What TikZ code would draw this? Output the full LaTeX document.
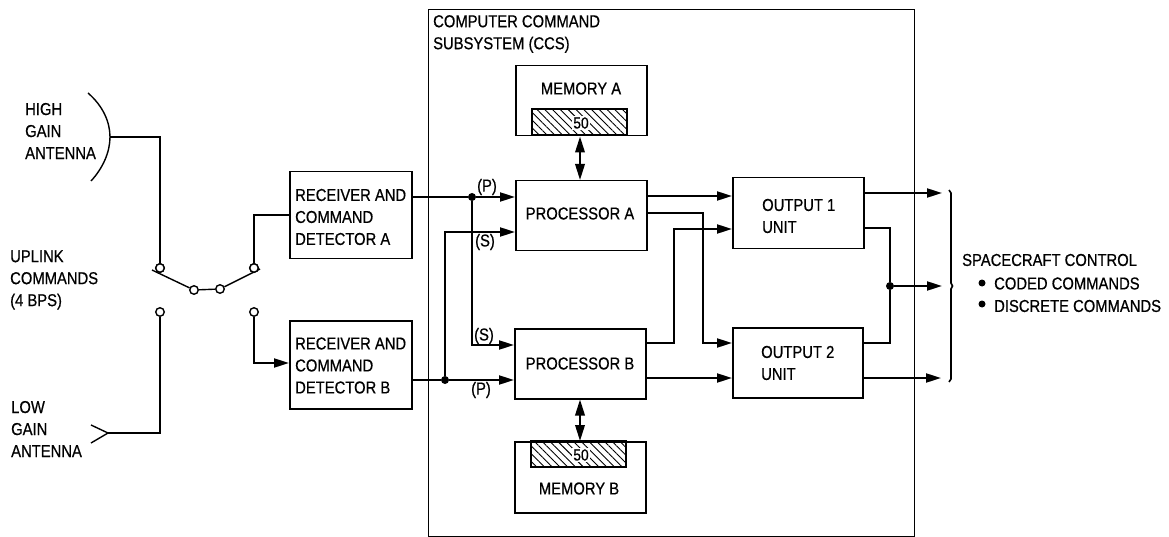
\documentclass[tikz,border=0pt]{standalone}
\usepackage{fontspec}
\setmainfont[FakeStretch=0.86,FakeBold=0.6]{Liberation Sans}
\usetikzlibrary{arrows.meta,patterns.meta}
\tikzset{
  x=1pt,y=-1pt,
  wire/.style={line width=2pt,line join=miter},
  arr/.style={wire,-{Triangle[length=15pt,width=9pt]}},
  darr/.style={wire,{Triangle[length=16pt,width=9.5pt]}-{Triangle[length=16pt,width=9.5pt]}},
  blockbox/.style={draw,line width=1.5pt,inner sep=0pt,minimum width=#1,anchor=north west},
  lbl/.style={inner sep=0pt,anchor=west,align=left,font=\fontsize{17.2}{22}\selectfont},
  ctr/.style={inner sep=0pt,anchor=center,align=center,font=\fontsize{17.2}{22}\selectfont},
  dotn/.style={circle,fill=black,inner sep=0pt,minimum size=8pt},
  term/.style={circle,draw,fill=white,line width=1.4pt,inner sep=0pt,minimum size=8.5pt},
  hatchbox/.style={draw,line width=1.5pt,pattern={Lines[angle=-45,distance=5.5pt,line width=.9pt]}}
}
\begin{document}
\begin{tikzpicture}
\useasboundingbox (0,0) rectangle (1169,537);
% CCS enclosure
\node[blockbox=486pt,minimum height=527pt] (ccs) at (427.5,9) {};
\node[lbl] (ccst) at (433,34) {COMPUTER COMMAND\\SUBSYSTEM (CCS)};
% blocks
\node[blockbox=122pt,minimum height=87pt] (rxa) at (289,171) {};
\node[lbl] at (295,217) {RECEIVER AND\\COMMAND\\DETECTOR A};
\node[blockbox=122pt,minimum height=88pt] (rxb) at (289,320) {};
\node[lbl] at (295,365.5) {RECEIVER AND\\COMMAND\\DETECTOR B};
\node[blockbox=131pt,minimum height=70pt] (pa) at (515,180) {};
\node[ctr] at (580,213.5) {PROCESSOR A};
\node[blockbox=131pt,minimum height=70pt] (pb) at (514,328) {};
\node[ctr] at (580,363.5) {PROCESSOR B};
\node[blockbox=131pt,minimum height=70pt] (ma) at (515,65) {};
\node[ctr] at (581,88.5) {MEMORY A};
\node[blockbox=131pt,minimum height=71pt] (mb) at (514,441) {};
\node[ctr] at (579,488.5) {MEMORY B};
\node[blockbox=131pt,minimum height=71pt] (oa) at (732,177) {};
\node[lbl] at (762,216) {OUTPUT 1\\UNIT};
\node[blockbox=130pt,minimum height=70pt] (ob) at (732,327) {};
\node[lbl] at (761,363) {OUTPUT 2\\UNIT};
% hatched store
\draw[hatchbox] (532,109) rectangle (627,135);
\draw[hatchbox] (531,441) rectangle (626,467);
\node[fill=white,inner sep=1pt,font=\fontsize{16}{18}\selectfont] (n50a) at (581,123) {50};
\node[fill=white,inner sep=1pt,font=\fontsize{16}{18}\selectfont] (n50b) at (581,455) {50};
% memory links
\draw[darr] (ma.south -| 580,0) -- (pa.north -| 580,0);
\draw[darr] (pb.south -| 580,0) -- (mb.north -| 580,0);
% junctions
\node[dotn] (j1) at (472,197) {};
\node[dotn] (j2) at (445,380) {};
\node[dotn] (j3) at (890,286) {};
% inputs to processors
\draw[wire] (rxa.east |- j1) -- (j1);
\draw[arr] (j1) -- (pa.west |- j1);
\draw[arr] (j1) -- (472,345) -- (pb.west |- 0,345);
\draw[wire] (rxb.east |- j2) -- (j2);
\draw[arr] (j2) -- (pb.west |- j2);
\draw[arr] (j2) -- (445,232) -- (pa.west |- 0,232);
\node[ctr] at (487,187) {(P)};
\node[ctr] at (485,242) {(S)};
\node[ctr] at (484,336) {(S)};
\node[ctr] at (481,390) {(P)};
% processors to outputs
\draw[arr] (pa.east |- 0,196) -- (oa.west |- 0,196);
\draw[arr] (pa.east |- 0,213) -- (703,213) -- (703,343) -- (ob.west |- 0,343);
\draw[arr] (pb.east |- 0,343) -- (674,343) -- (674,229) -- (oa.west |- 0,229);
\draw[arr] (pb.east |- 0,378) -- (ob.west |- 0,378);
% outputs to spacecraft
\coordinate (t1) at (942,193);
\coordinate (t2) at (942,286);
\coordinate (t3) at (941,378);
\draw[arr] (oa.east |- t1) -- (t1);
\draw[arr] (ob.east |- t3) -- (t3);
\draw[arr] (j3) -- (t2);
\draw[wire] (oa.east |- 0,228) -- (890,228) -- (j3);
\draw[wire] (ob.east |- 0,343) -- (890,343) -- (j3);
% bracket
\draw[line width=1.6pt] (949,190) -- (951,193) -- (951,283) -- (952.5,286) -- (951,289) -- (951,379) -- (949,382);
\node[lbl] (sc) at (962,260) {SPACECRAFT CONTROL};
\node[dotn,minimum size=7pt] (b1) at (982,283) {};
\node[dotn,minimum size=7pt] (b2) at (982,304) {};
\node[lbl] at (994,283.5) {CODED COMMANDS};
\node[lbl] at (994,306) {DISCRETE COMMANDS};
% switch
\node[term] (s1) at (160,268) {};
\node[term] (s2) at (254,268) {};
\node[term] (s3) at (160,312) {};
\node[term] (s4) at (254,312) {};
\node[term] (s5) at (194,290) {};
\node[term] (s6) at (220,289) {};
\coordinate (bl) at (152,270);
\coordinate (br) at (260,269);
\draw[line width=1.4pt] (bl) -- (s5) -- (s6) -- (br);
\node[term] at (s1) {};
\node[term] at (s2) {};
% antennas
\draw[line width=1.4pt] (88,93) .. controls (103,106) and (110,122) .. (110,137) coordinate (hg) .. controls (110,152) and (103,168) .. (91,181);
\draw[wire] (hg) -- (160,137) -- (s1);
\draw[line width=1.4pt] (91,425) -- (108,433) coordinate (lg) -- (91,443);
\draw[wire] (lg) -- (160,433) -- (s3);
\draw[wire] (s2) -- (254,215) -- (rxa.west |- 0,215);
\draw[arr] (s4) -- (254,363) -- (rxb.west |- 0,363);
% left labels
\node[lbl] at (25,131) {HIGH\\GAIN\\ANTENNA};
\node[lbl] at (10,280) {UPLINK\\COMMANDS\\(4 BPS)};
\node[lbl] at (11,429) {LOW\\GAIN\\ANTENNA};
\end{tikzpicture}
\end{document}
